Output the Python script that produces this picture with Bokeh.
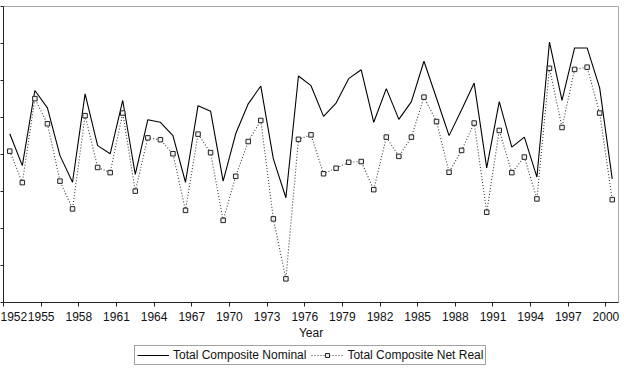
from bokeh.plotting import figure
from bokeh.layouts import column
from bokeh.models import (Range1d, FixedTicker, Legend, LegendItem, ColumnDataSource,
                          CustomJSTickFormatter)
from bokeh.embed import file_html
from bokeh.resources import INLINE

years = list(range(1952, 2001))

nominal = [5.6, -3.0, 17.3, 12.6, -0.3, -7.5, 16.4, 2.4, 0.2, 14.6,
           -5.4, 9.4, 8.7, 5.1, -7.5, 13.2, 11.7, -7.2, 5.6, 13.7,
           18.5, -1.2, -11.7, 21.2, 18.6, 10.3, 13.9, 20.5, 22.9, 8.7,
           17.8, 9.5, 14.3, 25.2, 15.2, 5.1, 12.1, 19.3, -3.6, 14.3,
           2.0, 4.7, -6.1, 30.4, 14.6, 28.8, 28.8, 18.0, -6.6]

net_real = [0.9, -7.6, 15.1, 8.3, -7.2, -14.7, 10.5, -3.5, -4.9, 11.2,
            -9.9, 4.5, 4.0, 0.2, -15.1, 5.5, 0.5, -17.8, -5.9, 3.5,
            9.2, -17.4, -33.6, 4.1, 5.3, -5.2, -3.7, -2.1, -1.9, -9.5,
            4.7, -0.5, 4.7, 15.5, 8.9, -4.8, 1.1, 8.5, -15.6, 6.5,
            -4.9, -0.7, -12.0, 23.3, 7.3, 23.0, 23.6, 11.2, -12.2]

x_ticks = list(range(1952, 2001, 3))
y_ticks = list(range(-40, 41, 10))

FONT = "Liberation Sans"
NOM_STYLE = dict(line_color="black", line_width=1.1)
REAL_LINE_STYLE = dict(line_color="#3a3a3a", line_width=1.1, line_dash="1 2")
REAL_PT_STYLE = dict(marker="square", size=4.5, line_color="#222222", line_width=1,
                     fill_color="#f2f2f2")

# each annual value sits in the middle of its year
src = ColumnDataSource(dict(x=[y + 0.5 for y in years], nom=nominal, real=net_real))

p = figure(width=624, height=342, output_backend="svg", toolbar_location=None,
           x_range=Range1d(1952, 2001), y_range=Range1d(-40, 40),
           min_border_left=3, min_border_right=6, min_border_top=6, min_border_bottom=40)

p.xgrid.visible = False
p.ygrid.visible = False
p.outline_line_color = "#a8a8a8"
p.outline_line_width = 1
p.background_fill_color = "white"
p.border_fill_color = "white"

p.xaxis.ticker = FixedTicker(ticks=x_ticks)
p.xaxis.minor_tick_line_color = None
p.xaxis.major_tick_in = 0
p.xaxis.major_tick_out = 4
p.xaxis.axis_line_color = "#222222"
p.xaxis.major_tick_line_color = "#222222"
p.xaxis.major_label_text_font = FONT
p.xaxis.major_label_text_font_size = "12px"
p.xaxis.major_label_text_color = "#111111"
p.xaxis.major_label_standoff = 5
p.xaxis.axis_label = "Year"
p.xaxis.axis_label_text_font = FONT
p.xaxis.axis_label_text_font_size = "12px"
p.xaxis.axis_label_text_font_style = "normal"
p.xaxis.axis_label_text_color = "#111111"
p.xaxis.axis_label_standoff = 2

# y scale carries ticks only, its labels are left blank
p.yaxis.ticker = FixedTicker(ticks=y_ticks)
p.yaxis.formatter = CustomJSTickFormatter(code="return '';")
p.yaxis.minor_tick_line_color = None
p.yaxis.major_tick_in = 0
p.yaxis.major_tick_out = 3
p.yaxis.axis_line_color = "#222222"
p.yaxis.major_tick_line_color = "#222222"
p.yaxis.major_label_standoff = 0

p.line("x", "nom", source=src, **NOM_STYLE)
p.line("x", "real", source=src, **REAL_LINE_STYLE)
p.scatter("x", "real", source=src, **REAL_PT_STYLE)

# legend strip under the chart: its swatches reuse the series styles,
# their own points lie outside the strip's visible range
lg = figure(width=624, height=27, output_backend="svg", toolbar_location=None,
            x_range=Range1d(0, 1), y_range=Range1d(0, 1),
            min_border_left=0, min_border_right=0, min_border_top=0, min_border_bottom=0)
lg.axis.visible = False
lg.grid.visible = False
lg.outline_line_color = None
lg.border_fill_color = "white"

swatch = ColumnDataSource(dict(x=[-5, -4], y=[-5, -5]))
k_nom = lg.line("x", "y", source=swatch, **NOM_STYLE)
k_real_line = lg.line("x", "y", source=swatch, **REAL_LINE_STYLE)
k_real_pts = lg.scatter("x", "y", source=swatch, **REAL_PT_STYLE)

legend = Legend(items=[
    LegendItem(label="Total Composite Nominal", renderers=[k_nom]),
    LegendItem(label="Total Composite Net Real", renderers=[k_real_line, k_real_pts]),
], orientation="horizontal", location=(131, 4))
legend.label_text_font = FONT
legend.label_text_font_size = "12px"
legend.label_text_color = "#111111"
legend.glyph_width = 32
legend.glyph_height = 10
legend.label_height = 10
legend.label_standoff = 4
legend.spacing = 5
legend.padding = 2
legend.margin = 0
legend.border_line_color = "#444444"
legend.border_line_width = 1
lg.add_layout(legend, "center")

page = column(p, lg, spacing=0)
open("out.html", "w").write(file_html(page, INLINE))
